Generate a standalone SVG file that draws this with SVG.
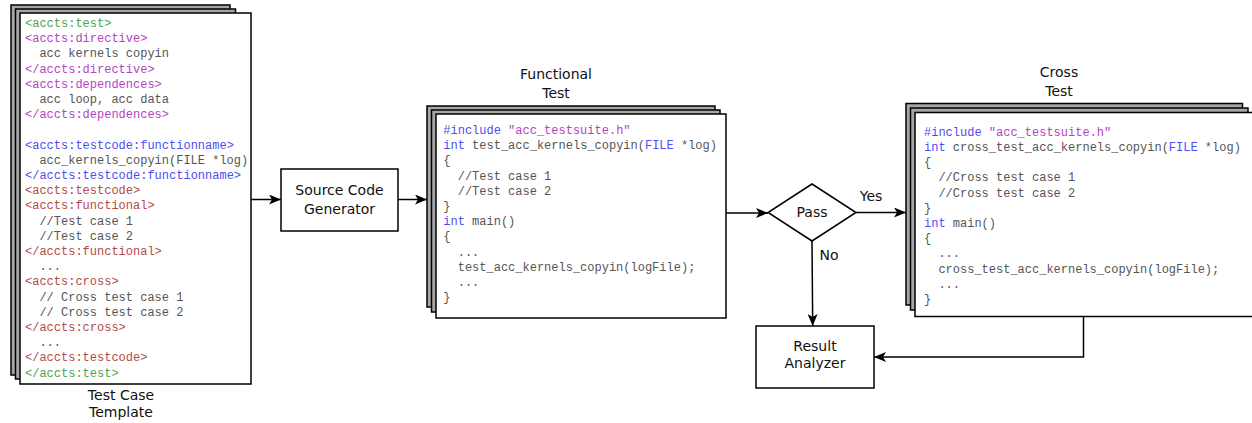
<svg xmlns="http://www.w3.org/2000/svg" width="1252" height="423" viewBox="0 0 1252 423">
  <style>
    .back { fill: #a6a6a6; stroke: #000; stroke-width: 1.5; }
    .front { fill: #fff; stroke: #000; stroke-width: 1.5; }
    .box { fill: #fff; stroke: #000; stroke-width: 1.5; }
    .code { font-family: "Liberation Mono", "Courier New", monospace; font-size: 12px; fill: #555; }
    .kw { fill: #4d4df2; }
    .str { fill: #b345c0; }
    .tg { fill: #4fa44f; }
    .tp { fill: #b345c0; }
    .tb { fill: #4d4df2; }
    .tr { fill: #b34a4a; }
    .lbl { font-family: "DejaVu Sans", "Liberation Sans", sans-serif; font-size: 14px; fill: #111; text-anchor: middle; }
    .edge { fill: none; stroke: #000; stroke-width: 1.5; }
  </style>
  <defs>
    <marker id="arrow" viewBox="0 0 12 10" refX="12" refY="5" markerWidth="12" markerHeight="10" markerUnits="userSpaceOnUse" orient="auto">
      <path d="M0,0 L12,5 L0,10 L3,5 Z" fill="#000"/>
    </marker>
  </defs>

  <rect width="1252" height="423" fill="#fff"/>

  <!-- Test case template (stacked document) -->
  <g id="template">
    <rect class="back" x="11" y="5" width="219" height="370"/>
    <rect class="back" x="15.5" y="9" width="220" height="370"/>
    <rect class="front" x="20" y="13" width="231" height="371"/>
    <g class="code">
      <text x="25" y="27" class="tg">&lt;accts:test&gt;</text>
      <text x="25" y="42.2" class="tp">&lt;accts:directive&gt;</text>
      <text x="39.4" y="57.4">acc kernels copyin</text>
      <text x="25" y="72.6" class="tp">&lt;/accts:directive&gt;</text>
      <text x="25" y="87.8" class="tp">&lt;accts:dependences&gt;</text>
      <text x="39.4" y="103">acc loop, acc data</text>
      <text x="25" y="118.2" class="tp">&lt;/accts:dependences&gt;</text>
      <text x="25" y="148.6" class="tb">&lt;accts:testcode:functionname&gt;</text>
      <text x="39.4" y="163.8">acc_kernels_copyin(FILE *log)</text>
      <text x="25" y="179" class="tb">&lt;/accts:testcode:functionname&gt;</text>
      <text x="25" y="194.2" class="tr">&lt;accts:testcode&gt;</text>
      <text x="25" y="209.4" class="tr">&lt;accts:functional&gt;</text>
      <text x="39.4" y="224.6">//Test case 1</text>
      <text x="39.4" y="239.8">//Test case 2</text>
      <text x="25" y="255" class="tr">&lt;/accts:functional&gt;</text>
      <text x="39.4" y="270.2">...</text>
      <text x="25" y="285.4" class="tr">&lt;accts:cross&gt;</text>
      <text x="39.4" y="300.6">// Cross test case 1</text>
      <text x="39.4" y="315.8">// Cross test case 2</text>
      <text x="25" y="331" class="tr">&lt;/accts:cross&gt;</text>
      <text x="39.4" y="346.2">...</text>
      <text x="25" y="361.4" class="tr">&lt;/accts:testcode&gt;</text>
      <text x="25" y="376.6" class="tg">&lt;/accts:test&gt;</text>
    </g>
    <text class="lbl" x="121" y="400">Test Case</text>
    <text class="lbl" x="121" y="417">Template</text>
  </g>

  <!-- Source code generator -->
  <g id="generator">
    <rect class="box" x="281" y="169" width="117" height="62"/>
    <text class="lbl" x="339.5" y="195">Source Code</text>
    <text class="lbl" x="339.5" y="214">Generator</text>
  </g>

  <!-- Functional test (stacked document) -->
  <g id="functional">
    <text class="lbl" x="556" y="79">Functional</text>
    <text class="lbl" x="556" y="97.5">Test</text>
    <rect class="back" x="427" y="106" width="288" height="201"/>
    <rect class="back" x="431.5" y="110" width="288.5" height="202"/>
    <rect class="front" x="436" y="114" width="290" height="204"/>
    <g class="code">
      <text x="443.3" y="134"><tspan class="kw">#include</tspan> <tspan class="str">"acc_testsuite.h"</tspan></text>
      <text x="443.3" y="149.2"><tspan class="kw">int</tspan> test_acc_kernels_copyin(<tspan class="kw">FILE</tspan> *log)</text>
      <text x="443.3" y="164.4">{</text>
      <text x="457.7" y="179.6">//Test case 1</text>
      <text x="457.7" y="194.8">//Test case 2</text>
      <text x="443.3" y="210">}</text>
      <text x="443.3" y="225.2"><tspan class="kw">int</tspan> main()</text>
      <text x="443.3" y="240.4">{</text>
      <text x="457.7" y="255.6">...</text>
      <text x="457.7" y="270.8">test_acc_kernels_copyin(logFile);</text>
      <text x="457.7" y="286">...</text>
      <text x="443.3" y="301.2">}</text>
    </g>
  </g>

  <!-- Pass decision -->
  <g id="pass">
    <polygon class="box" points="812,184 856,212.5 812,241 768,212.5"/>
    <text class="lbl" x="812" y="217">Pass</text>
  </g>

  <!-- Cross test (stacked document) -->
  <g id="cross">
    <text class="lbl" x="1059" y="77">Cross</text>
    <text class="lbl" x="1059" y="95.5">Test</text>
    <rect class="back" x="906" y="103.5" width="336.5" height="201.5"/>
    <rect class="back" x="910.5" y="108" width="337.5" height="202"/>
    <rect class="front" x="915" y="112.5" width="345" height="204"/>
    <g class="code">
      <text x="924" y="135.7"><tspan class="kw">#include</tspan> <tspan class="str">"acc_testsuite.h"</tspan></text>
      <text x="924" y="150.9"><tspan class="kw">int</tspan> cross_test_acc_kernels_copyin(<tspan class="kw">FILE</tspan> *log)</text>
      <text x="924" y="166.1">{</text>
      <text x="938.4" y="181.3">//Cross test case 1</text>
      <text x="938.4" y="196.5">//Cross test case 2</text>
      <text x="924" y="211.7">}</text>
      <text x="924" y="226.9"><tspan class="kw">int</tspan> main()</text>
      <text x="924" y="242.1">{</text>
      <text x="938.4" y="257.3">...</text>
      <text x="938.4" y="272.5">cross_test_acc_kernels_copyin(logFile);</text>
      <text x="938.4" y="287.7">...</text>
      <text x="924" y="302.9">}</text>
    </g>
  </g>

  <!-- Result analyzer -->
  <g id="analyzer">
    <rect class="box" x="756" y="326" width="118" height="62"/>
    <text class="lbl" x="815" y="350.5">Result</text>
    <text class="lbl" x="815" y="368">Analyzer</text>
  </g>

  <!-- Connectors -->
  <g id="connectors">
    <line class="edge" x1="251" y1="199.5" x2="281" y2="199.5" marker-end="url(#arrow)"/>
    <line class="edge" x1="398" y1="199.5" x2="427" y2="199.5" marker-end="url(#arrow)"/>
    <line class="edge" x1="726" y1="213" x2="768" y2="213" marker-end="url(#arrow)"/>
    <line class="edge" x1="856" y1="212.5" x2="906" y2="212.5" marker-end="url(#arrow)"/>
    <line class="edge" x1="812" y1="241" x2="812.7" y2="326" marker-end="url(#arrow)"/>
    <polyline class="edge" points="1083.5,316.5 1083.5,357 874,357" marker-end="url(#arrow)"/>
    <text class="lbl" x="871" y="200.5">Yes</text>
    <text class="lbl" x="829" y="260">No</text>
  </g>
</svg>
